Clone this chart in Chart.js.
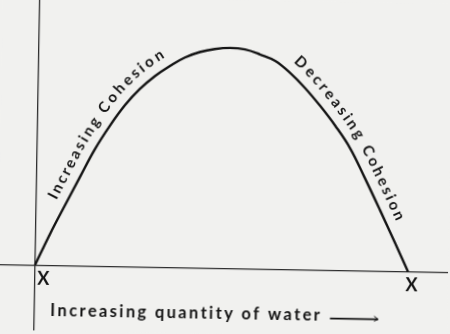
<!DOCTYPE html>
<html><head><meta charset="utf-8">
<script src="https://cdn.jsdelivr.net/npm/chart.js@4.4.1/dist/chart.umd.min.js"></script>
<style>
html,body{margin:0;padding:0;background:#f1f1ef;overflow:hidden;}
#wrap{width:450px;height:334px;transform:rotate(1deg);transform-origin:225px 167px;}
canvas{display:block;}
</style></head><body>
<div id="wrap"><canvas id="c" width="450" height="334"></canvas></div>
<script>
// Quantity of water (arbitrary units, X..X = 0..100)
const waterQuantity = [0, 3.9, 7.8, 11.7, 15.5, 19.5, 23.4, 27.3, 31.3, 35.3, 39.2, 43.2, 47.2, 51.3, 55.3, 59.3, 63.4, 67.5, 71.5, 75.7, 79.8, 83.9, 88.0, 92.2, 96.4, 100];
// Cohesion (arbitrary units, peak = 100)
const cohesion = [0, 14.3, 27.5, 40.5, 53.0, 64.0, 73.3, 80.7, 86.7, 91.4, 95.3, 97.9, 99.4, 100, 99.4, 97.3, 94.5, 89.1, 82.5, 74.4, 65.6, 55.5, 42.1, 27.7, 12.9, 0];
const curveLabels = ['Increasing Cohesion', 'Decreasing Cohesion'];
const curveLabelRanges = [[7.8, 35.3], [66.5, 94.2]]; // water quantity spans covered by the labels
const endLabels = ['X', 'X'];
const endValues = [0, 100];
const axisTitle = 'Increasing quantity of water';

const INK = '#141414';
const BG = '#f1f1ef';

function buildPath(chart){
  const pts = chart.getDatasetMeta(0).data;
  const path = [{x: pts[0].x, y: pts[0].y, s: 0}];
  for (let i = 0; i < pts.length - 1; i++) {
    const a = pts[i], b = pts[i + 1];
    const p1x = a.cp2x ?? a.x, p1y = a.cp2y ?? a.y;
    const p2x = b.cp1x ?? b.x, p2y = b.cp1y ?? b.y;
    for (let k = 1; k <= 24; k++) {
      const t = k / 24, u = 1 - t;
      path.push({
        x: u*u*u*a.x + 3*u*u*t*p1x + 3*u*t*t*p2x + t*t*t*b.x,
        y: u*u*u*a.y + 3*u*u*t*p1y + 3*u*t*t*p2y + t*t*t*b.y
      });
    }
  }
  for (let i = 1; i < path.length; i++) {
    path[i].s = path[i-1].s + Math.hypot(path[i].x - path[i-1].x, path[i].y - path[i-1].y);
  }
  return path;
}
function pointAt(path, s){
  let i = 0;
  while (i < path.length - 2 && path[i+1].s < s) i++;
  const a = path[i], b = path[i+1];
  const t = (s - a.s) / ((b.s - a.s) || 1);
  return {x: a.x + (b.x - a.x)*t, y: a.y + (b.y - a.y)*t, a: Math.atan2(b.y - a.y, b.x - a.x)};
}
function sAtX(path, px){
  for (let i = 0; i < path.length - 1; i++) {
    const a = path[i], b = path[i+1];
    if ((a.x <= px && b.x >= px)) {
      const t = (px - a.x) / ((b.x - a.x) || 1);
      return a.s + (b.s - a.s) * t;
    }
  }
  return path[path.length-1].s;
}
function drawAlong(ctx, path, text, s0, s1, offset){
  const chars = [...text];
  const widths = chars.map(c => ctx.measureText(c).width);
  const W = widths.reduce((p, c) => p + c, 0);
  const gap = (s1 - s0 - W) / (chars.length - 1);
  let s = s0;
  chars.forEach((ch, i) => {
    const p = pointAt(path, s + widths[i] / 2);
    ctx.save();
    ctx.translate(p.x + Math.sin(p.a) * offset, p.y - Math.cos(p.a) * offset);
    ctx.rotate(p.a);
    ctx.fillText(ch, 0, 0);
    ctx.restore();
    s += widths[i] + gap;
  });
}

const annotations = {
  id: 'annotations',
  beforeDraw(chart){
    const ctx = chart.ctx;
    ctx.save(); ctx.fillStyle = BG; ctx.fillRect(0, 0, chart.width, chart.height); ctx.restore();
  },
  afterDatasetsDraw(chart){
    const ctx = chart.ctx, xs = chart.scales.x, ys = chart.scales.y;
    const path = buildPath(chart);
    ctx.save();
    ctx.fillStyle = INK;
    ctx.textAlign = 'center';
    ctx.textBaseline = 'alphabetic';
    ctx.font = 'bold 15px Lato';
    curveLabels.forEach((lab, i) => {
      const r = curveLabelRanges[i];
      drawAlong(ctx, path, lab, sAtX(path, xs.getPixelForValue(r[0])), sAtX(path, xs.getPixelForValue(r[1])), 10);
    });
    // end labels
    ctx.font = 'bold 18px Lato';
    ctx.textBaseline = 'middle';
    const endDx = [2.3, 1.0];
    endLabels.forEach((lab, i) => {
      ctx.fillText(lab, xs.getPixelForValue(endValues[i] + endDx[i]), ys.getPixelForValue(-6));
    });
    // axis title, letter-spaced
    ctx.font = 'bold 16.5px Lato';
    ctx.textAlign = 'left';
    ctx.textBaseline = 'alphabetic';
    const x0 = xs.getPixelForValue(4.3), x1 = xs.getPixelForValue(76.6), by = ys.getPixelForValue(-23);
    const chars = [...axisTitle];
    const widths = chars.map(c => ctx.measureText(c).width);
    const W = widths.reduce((p, c) => p + c, 0);
    const gap = (x1 - x0 - W) / (chars.length - 1);
    let cx = x0;
    chars.forEach((ch, i) => { ctx.fillText(ch, cx, by); cx += widths[i] + gap; });
    // arrow
    const ax0 = xs.getPixelForValue(79.3), ax1 = xs.getPixelForValue(92.2), ay = ys.getPixelForValue(-21.8);
    ctx.strokeStyle = INK;
    ctx.lineWidth = 1.8;
    ctx.beginPath(); ctx.moveTo(ax0, ay); ctx.lineTo(ax1, ay); ctx.stroke();
    ctx.lineWidth = 1;
    ctx.beginPath(); ctx.moveTo(ax1 - 4, ay - 3); ctx.lineTo(ax1, ay); ctx.lineTo(ax1 - 4, ay + 2); ctx.stroke();
    ctx.restore();
  }
};

new Chart(document.getElementById('c'), {
  type: 'line',
  data: {
    datasets: [{
      data: waterQuantity.map((w, i) => ({x: w, y: cohesion[i]})),
      borderColor: INK,
      borderWidth: 2.4,
      pointRadius: 0,
      tension: 0.4,
      fill: false,
      clip: false
    }]
  },
  options: {
    responsive: false,
    animation: false,
    devicePixelRatio: 1,
    layout: {padding: 0},
    plugins: {legend: {display: false}, tooltip: {enabled: false}},
    scales: {
      x: {
        type: 'linear', min: -9.84, max: 110.77,
        position: {y: 0},
        grid: {display: false},
        border: {display: true, color: '#2e2e2e', width: 1.3},
        ticks: {display: false}
      },
      y: {
        type: 'linear', min: -29.7, max: 121.7,
        position: {x: 0},
        grid: {display: false},
        border: {display: true, color: '#2e2e2e', width: 1.3},
        ticks: {display: false}
      }
    }
  },
  plugins: [annotations]
});
</script>
</body></html>
